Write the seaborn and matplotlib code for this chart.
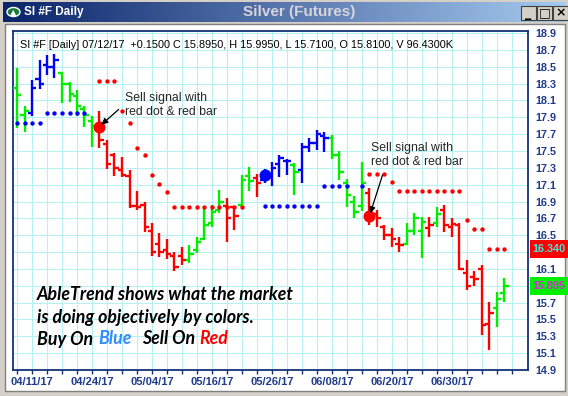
import numpy as np
import pandas as pd
import matplotlib
matplotlib.use('Agg')
import matplotlib.pyplot as plt
import matplotlib.transforms as mtransforms
from matplotlib.patches import Rectangle, Circle
from matplotlib.colors import LinearSegmentedColormap
import seaborn as sns

# ---------------- data ----------------
symbol = 'SI #F'
window_title = 'Silver (Futures)'
volume = '96.4300K'

holidays = ['2017-04-14', '2017-05-29', '2017-07-04']
trade_dates = [d for d in pd.bdate_range('2017-04-07', '2017-07-12')
               if d.strftime('%Y-%m-%d') not in holidays]

opens = [18.25, 17.93, 17.95, 18.35, 18.52, 18.50, 18.42, 18.30, 18.15, 18.00,
         17.85, 17.80, 17.58, 17.45, 17.27, 17.20, 16.85, 16.86, 16.55, 16.40,
         16.32, 16.25, 16.25, 16.20, 16.32, 16.45, 16.65, 16.80, 16.85, 16.84,
         16.86, 17.20, 17.18, 17.15, 17.20, 17.35, 17.38, 17.33, 17.27, 17.55,
         17.60, 17.68, 17.65, 17.45, 17.12, 16.90, 16.85, 17.00, 16.75, 16.60,
         16.50, 16.40, 16.40, 16.55, 16.55, 16.58, 16.65, 16.80, 16.60, 16.62,
         16.05, 16.00, 16.10, 15.45, 15.63, 15.81]
highs = [18.48, 18.03, 18.34, 18.58, 18.64, 18.65, 18.44, 18.32, 18.22, 18.03,
         17.91, 17.97, 17.63, 17.48, 17.43, 17.27, 17.02, 16.90, 16.65, 16.53,
         16.46, 16.30, 16.36, 16.38, 16.48, 16.84, 16.86, 17.04, 16.94, 16.85,
         17.21, 17.31, 17.23, 17.29, 17.37, 17.45, 17.41, 17.36, 17.60, 17.65,
         17.75, 17.73, 17.69, 17.50, 17.17, 16.97, 17.37, 17.06, 16.80, 16.62,
         16.58, 16.48, 16.64, 16.76, 16.72, 16.72, 16.84, 16.86, 16.70, 16.64,
         16.20, 16.08, 16.15, 15.71, 15.83, 15.995]
lows = [17.77, 17.73, 17.91, 18.24, 18.40, 18.37, 18.07, 18.08, 17.91, 17.79,
        17.55, 17.53, 17.29, 17.20, 17.19, 16.82, 16.80, 16.54, 16.25, 16.24,
        16.22, 16.07, 16.15, 16.17, 16.29, 16.44, 16.60, 16.76, 16.42, 16.56,
        16.84, 17.02, 16.95, 17.12, 17.08, 17.19, 17.21, 16.98, 17.12, 17.49,
        17.51, 17.49, 17.41, 17.16, 16.84, 16.70, 16.79, 16.62, 16.60, 16.44,
        16.36, 16.30, 16.38, 16.50, 16.23, 16.48, 16.60, 16.54, 16.48, 16.09,
        15.85, 15.90, 15.32, 15.14, 15.41, 15.71]
closes = [18.16, 17.98, 18.25, 18.30, 18.50, 18.58, 18.30, 18.18, 18.03, 17.93,
          17.80, 17.63, 17.35, 17.30, 17.22, 16.85, 16.84, 16.60, 16.30, 16.30,
          16.28, 16.12, 16.20, 16.28, 16.42, 16.62, 16.78, 16.90, 16.70, 16.73,
          17.15, 17.14, 17.12, 17.25, 17.30, 17.42, 17.38, 17.25, 17.55, 17.60,
          17.70, 17.65, 17.45, 17.25, 16.98, 16.78, 17.12, 16.72, 16.70, 16.50,
          16.45, 16.38, 16.55, 16.70, 16.66, 16.62, 16.75, 16.62, 16.63, 16.10,
          15.90, 15.98, 15.43, 15.58, 15.745, 15.895]
bar_colors = ['g', 'g', 'b', 'b', 'b', 'b', 'g', 'g', 'g', 'g',
              'g', 'r', 'r', 'r', 'r', 'r', 'r', 'r', 'r', 'r',
              'r', 'r', 'r', 'g', 'g', 'g', 'g', 'g', 'r', 'r',
              'g', 'g', 'r', 'b', 'b', 'b', 'b', 'g', 'b', 'b',
              'b', 'b', 'g', 'g', 'g', 'g', 'g', 'r', 'r', 'r',
              'r', 'r', 'g', 'g', 'g', 'r', 'g', 'r', 'r', 'r',
              'r', 'r', 'r', 'r', 'g', 'g']
nan = np.nan
buy_stop = ([17.83] * 4 + [17.95] * 6 + [nan] * 23 + [16.85] * 8 +
            [17.08] * 4 + [nan, 17.08] + [nan] * 19)
sell_stop = ([nan] * 11 + [18.33] * 3 + [17.97, 17.83, 17.54, 17.45, 17.21, 17.11, 17.01] +
             [16.84] * 10 + [nan] * 16 + [17.23] * 3 + [17.13] + [17.02] * 9 +
             [16.68, 16.57, 16.57, 16.34, 16.34, 16.34])
sell_signals_bar = [11, 47]
sell_signals_price = [17.79, 16.73]
buy_signals_bar = [33]
buy_signals_price = [17.21]

annotation_text = 'Sell signal with\nred dot & red bar'
slogan_1 = 'AbleTrend shows what the market'
slogan_2 = 'is doing objectively by colors.'
slogan_3 = ['Buy On', 'Blue', 'Sell On', 'Red']

n = len(trade_dates)
df = pd.DataFrame({'bar': np.arange(n), 'open': opens, 'high': highs, 'low': lows,
                   'close': closes, 'signal': bar_colors,
                   'buy_stop': buy_stop, 'sell_stop': sell_stop})

# ---------------- style ----------------
sns.set_style('white')
plt.rcParams['font.family'] = ['Liberation Sans', 'DejaVu Sans']
pal = {'g': '#00ee00', 'b': '#0000ff', 'r': '#ff0000'}
navy = '#14307a'
label_blue = '#1f3b8c'
grid_c = '#b6f0f0'

W, H = 568, 396
fig = plt.figure(figsize=(W / 100, H / 100), dpi=100)
fig.patch.set_facecolor('#d4d0c8')


def px(x0, y0, x1, y1):
    return [x0 / W, 1 - y1 / H, (x1 - x0) / W, (y1 - y0) / H]


# white panel
fig.patches.append(Rectangle((5 / W, 5 / H), 560 / W, (391 - 24) / H, transform=fig.transFigure,
                             facecolor='white', edgecolor='#808080', lw=1, zorder=-5))

# title bar
tb = fig.add_axes(px(3, 2, 566, 22))
grad = np.linspace(0, 1, 256).reshape(1, -1)
tb.imshow(grad, aspect='auto', extent=[0, 1, 0, 1],
          cmap=LinearSegmentedColormap.from_list('tb', ['#0a246a', '#a6caf0']))
tb.axis('off')
fig.patches.append(Circle((13.5 / W, 1 - 12 / H), 6.5 / W, transform=fig.transFigure,
                          facecolor='#1a7a3a', edgecolor='white', lw=1, zorder=5))
fig.text(13.5 / W, 1 - 12.5 / H, '▲', color='white', fontsize=6, ha='center', va='center',
         family='DejaVu Sans', zorder=6)
fig.text(24 / W, 1 - 12 / H, f'{symbol} Daily', color='white', weight='bold', fontsize=8.5,
         va='center')
fig.text(299 / W, 1 - 12 / H, window_title, color='#d8d4dc', weight='bold', fontsize=11,
         ha='center', va='center')
for bx, sym in zip([521, 537, 553], ['_', '□', '×']):
    fig.patches.append(Rectangle((bx / W, 1 - 20 / H), 15 / W, 14 / H, transform=fig.transFigure,
                                 facecolor='#d4d0c8', edgecolor='#404040', lw=0.8, zorder=5))
    fig.text((bx + 7.5) / W, 1 - 13 / H, sym, color='black', weight='bold', fontsize=9,
             ha='center', va='center', family='DejaVu Sans', zorder=6)

# main axes
ax = fig.add_axes(px(13, 31, 528, 370))
ax.set_facecolor('white')
ax.set_xlim(-4 / 7.5, 511 / 7.5)
ax.set_ylim(14.9, 14.9 + 339 / 84.25)

cols = df['signal'].map(pal).tolist()
ax.vlines(df['bar'], df['low'], df['high'], colors=cols, lw=1.7, zorder=3)
ax.hlines(df['open'], df['bar'] - 0.55, df['bar'], colors=cols, lw=1.7, zorder=3)
ax.hlines(df['close'], df['bar'], df['bar'] + 0.55, colors=cols, lw=1.7, zorder=3)

sns.scatterplot(data=df, x='bar', y='sell_stop', color='#ff0000', s=10, linewidth=0, ax=ax, zorder=4)
sns.scatterplot(data=df, x='bar', y='buy_stop', color='#0000ff', s=10, linewidth=0, ax=ax, zorder=4)
sns.scatterplot(x=sell_signals_bar, y=sell_signals_price, color='#ff0000', s=75, linewidth=0, ax=ax, zorder=5)
sns.scatterplot(x=buy_signals_bar, y=buy_signals_price, color='#0000ff', s=75, linewidth=0, ax=ax, zorder=5)
ax.set_xlabel('')
ax.set_ylabel('')

# value boxes on the right (they cover the tick labels they sit on)
box_vals = [sell_stop[-1], closes[-1]]

# ticks
label_idx = list(range(2, n, 8))
ax.set_xticks(label_idx, labels=[trade_dates[i].strftime('%m/%d/%y') for i in label_idx],
              fontweight='bold', color=label_blue, fontsize=8)
ax.set_xticks(np.arange(0, n + 2, 2), minor=True)
ax.tick_params(axis='x', which='both', length=3, width=1, color=navy, direction='out', pad=2,
               bottom=True)
yt = np.round(np.arange(14.9, 18.95, 0.2), 1)
ylabels = ['' if min(abs(v - b) for b in box_vals) < 0.1 else f'{v:.1f}' for v in yt]
ax.set_yticks(yt, labels=ylabels, fontweight='bold', color=label_blue, fontsize=7.8)
ax.tick_params(axis='y', which='both', length=0, pad=5, left=False, right=True,
               labelleft=False, labelright=True)
ax.grid(True, which='both', axis='x', color=grid_c, lw=0.8)
ax.grid(True, which='major', axis='y', color=grid_c, lw=0.8)
ax.set_axisbelow(True)
for s in ax.spines.values():
    s.set_visible(True)
    s.set_color(navy)
    s.set_linewidth(1.3)

trans = mtransforms.blended_transform_factory(ax.transAxes, ax.transData)
for val, fc, tc in [(box_vals[0], '#ff0000', '#40e8e0'), (box_vals[1], '#00ee00', '#d030d0')]:
    ax.add_patch(Rectangle((1.004, val - 0.105), 0.09, 0.21, transform=trans, clip_on=False,
                           facecolor=fc, edgecolor='none', zorder=6))
    ax.text(1.008, val, f'{val:.3f}', transform=trans, color=tc, fontsize=7.8, fontweight='bold',
            ha='left', va='center', clip_on=False, zorder=7)

# header line
chg = closes[-1] - closes[-2]
header = (f'{symbol} [Daily] {trade_dates[-1].strftime("%m/%d/%y")}  {chg:+.4f} '
          f'C {closes[-1]:.4f}, H {highs[-1]:.4f}, L {lows[-1]:.4f}, O {opens[-1]:.4f}, V {volume}')
fig.text(20 / W, 1 - 45 / H, header, fontsize=7.8, color='black', va='center')

# annotations
arrow = dict(arrowstyle='-|>', color='black', lw=0.9, mutation_scale=9, shrinkA=3, shrinkB=2)
ax.annotate(annotation_text, xy=(sell_signals_bar[0], sell_signals_price[0]),
            xytext=(125, H - 105), textcoords='figure pixels', fontsize=8.8, ha='left',
            va='center', linespacing=1.2,
            arrowprops=dict(arrow, relpos=(0, 0.55)), zorder=8)
ax.annotate(annotation_text, xy=(sell_signals_bar[1], sell_signals_price[1]),
            xytext=(371, H - 155), textcoords='figure pixels', fontsize=8.8, ha='left',
            va='center', linespacing=1.2,
            arrowprops=dict(arrow, relpos=(0.15, 0.0)), zorder=8)

# slogan
sfont = dict(family=['Lato', 'DejaVu Sans'], fontsize=12.8, fontweight='bold', style='italic')
fig.text(37 / W, 1 - 295 / H, slogan_1, color='black', va='center', **sfont)
fig.text(37 / W, 1 - 317 / H, slogan_2, color='black', va='center', **sfont)
t1 = fig.text(37 / W, 1 - 339 / H, slogan_3[0], color='black', va='center', **sfont)
t2 = ax.annotate(slogan_3[1], xy=(1, 0), xycoords=t1, xytext=(4, 0), textcoords='offset points',
                 va='bottom', ha='left', color='#2f8cff', **sfont)
t3 = ax.annotate(slogan_3[2], xy=(1, 0), xycoords=t2, xytext=(7, 0), textcoords='offset points',
                 va='bottom', ha='left', color='black', **sfont)
ax.annotate(slogan_3[3], xy=(1, 0), xycoords=t3, xytext=(3, 0), textcoords='offset points',
            va='bottom', ha='left', color='#ff0000', **sfont)

fig.savefig('out.png', dpi=100, facecolor=fig.get_facecolor())
